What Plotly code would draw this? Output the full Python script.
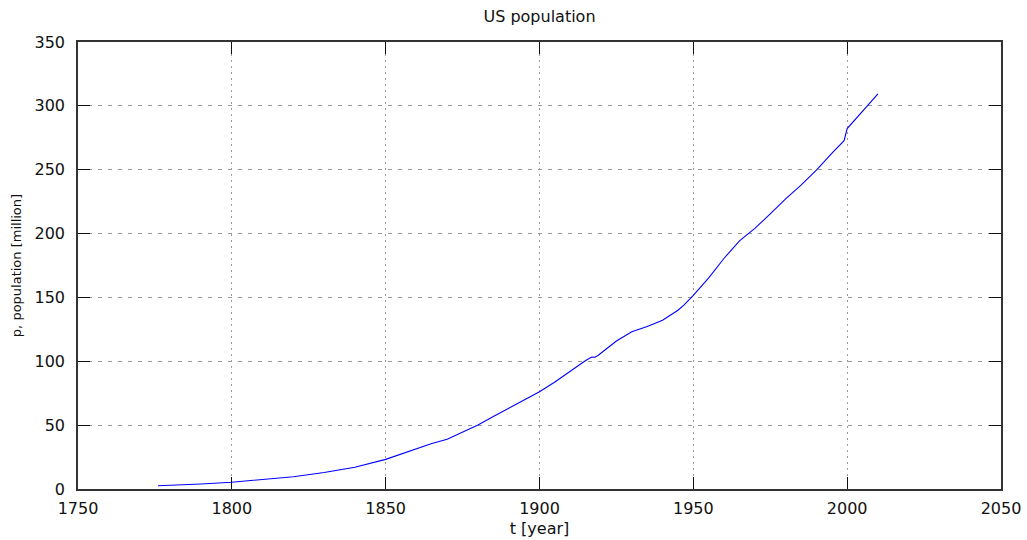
import plotly.graph_objects as go

# US resident population estimates, millions
years = [1776, 1780, 1790, 1800, 1810, 1820, 1830, 1840, 1850, 1855, 1860,
         1865, 1870, 1875, 1880, 1885, 1890, 1895, 1900, 1905, 1910, 1913,
         1915, 1917, 1918, 1919, 1920, 1925, 1930, 1935, 1940, 1943, 1945,
         1947, 1950, 1955, 1960, 1965, 1970, 1975, 1980, 1985, 1988, 1990,
         1995, 1999, 2000, 2005, 2010]
population = [2.5, 2.78, 3.93, 5.31, 7.24, 9.64, 12.87, 17.07, 23.19, 27.4,
              31.44, 35.7, 39.0, 44.6, 50.19, 56.7, 62.98, 69.6, 76.09, 83.82,
              92.41, 97.2, 100.55, 103.27, 103.21, 104.51, 106.46, 115.83,
              123.08, 127.25, 132.12, 136.7, 139.93, 144.1, 151.68, 165.28,
              180.67, 194.3, 204.0, 215.5, 227.2, 237.9, 244.5, 249.6,
              262.8, 272.7, 282.17, 295.52, 309.35]

x_ticks = [1750, 1800, 1850, 1900, 1950, 2000, 2050]
y_ticks = [0, 50, 100, 150, 200, 250, 300, 350]

FONT = "DejaVu Sans"

fig = go.Figure(
    go.Scatter(x=years, y=population, mode="lines",
               line=dict(color="#0000ff", width=1.1), hoverinfo="skip")
)

axis_common = dict(
    showline=True, linecolor="#333333", linewidth=1.5, mirror="ticks",
    ticks="inside", ticklen=12, tickcolor="#111111", tickwidth=1.2,
    showgrid=True, gridcolor="#9a9a9a", gridwidth=1, automargin=False,
    zeroline=False, tickfont=dict(family=FONT, size=16, color="#111111"),
)

fig.update_xaxes(
    range=[1750, 2050], tickmode="array", tickvals=x_ticks,
    ticktext=[str(v) for v in x_ticks], griddash="2px,4px",
    title=dict(text="t [year]", font=dict(family=FONT, size=16, color="#111111"),
               standoff=6),
    ticklabelstandoff=4, **axis_common,
)
fig.update_yaxes(
    range=[0, 350], tickmode="array", tickvals=y_ticks,
    ticktext=[str(v) for v in y_ticks], griddash="4px,6px",
    title=dict(text="p, population [million]",
               font=dict(family=FONT, size=13, color="#111111"), standoff=10),
    ticklabelstandoff=8, **axis_common,
)

fig.update_layout(
    width=1027, height=540,
    margin=dict(l=78, r=26, t=42, b=51),
    paper_bgcolor="white", plot_bgcolor="white",
    showlegend=False,
    title=dict(text="US population", x=0.5, xref="paper", xanchor="center",
               y=1 - 16 / 540, yref="container", yanchor="middle",
               font=dict(family=FONT, size=16, color="#111111")),
)

fig.write_html("out.html")
